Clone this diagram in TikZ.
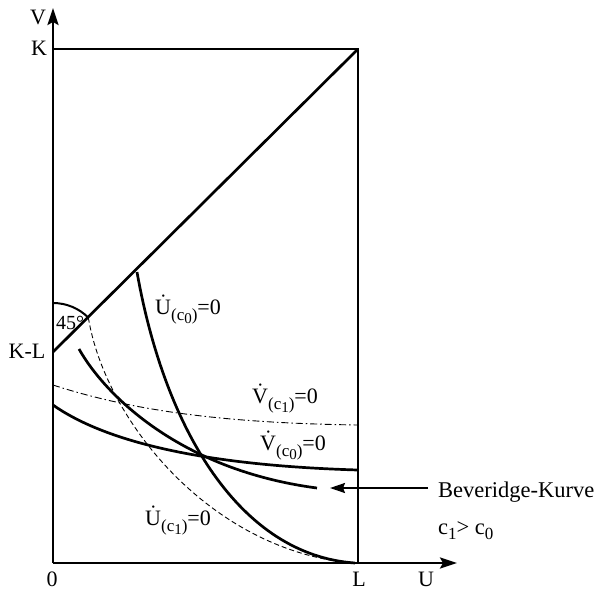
\documentclass[tikz,border=0pt]{standalone}
\usepackage{fontspec}
\setmainfont{Liberation Serif}
\usetikzlibrary{arrows.meta}
\newcommand\dotlet[1]{#1\symbol{"0307}}
\newcommand\sbs[1]{\raisebox{-6.5pt}{\fontsize{17}{17}\selectfont #1}}
\newcommand\ssb[1]{\raisebox{-3pt}{\fontsize{15}{15}\selectfont #1}}
\begin{document}
\begin{tikzpicture}[x=1pt,y=-1pt,
  axisline/.style={line width=2.4pt},
  frameline/.style={line width=2pt},
  curve/.style={line width=2.7pt},
  dashc/.style={line width=0.9pt,dash pattern=on 5pt off 3pt},
  dashdotc/.style={line width=0.9pt,dash pattern=on 7pt off 3pt on 1.5pt off 3pt},
  lab/.style={font=\fontsize{22}{22}\selectfont,inner sep=0pt,anchor=base west},
  axlab/.style={font=\fontsize{22}{22}\selectfont,inner sep=0pt},
  bigtip/.style={-{Stealth[length=17pt,width=11pt,inset=3pt]}}]
\useasboundingbox (0,0) rectangle (602,590);
% key points
\coordinate (O) at (53,563);
\coordinate (Vtip) at (53,8);
\coordinate (Utip) at (457,563);
\coordinate (Ktop) at (53,49);
\coordinate (KR) at (358,49);
\coordinate (Lb) at (358,563);
\coordinate (KL) at (53,352);
% axes and frame
\draw[axisline,bigtip] (O) -- (Vtip);
\draw[axisline,bigtip] (O) -- (Utip);
\draw[frameline] (Ktop) -- (KR) -- (Lb);
\draw[curve] (KL) -- (KR);
% 45 degree arc
\draw[line width=2pt] (53,303) .. controls (66.26,303) and (78.98,308.26) .. (88.36,317.64);
% U(c1)=0 dashed
\draw[dashc] (88.36,317.64) .. controls (105,420) and (210,550) .. (352,563);
% V(c1)=0 dash dot
\draw[dashdotc] (53,385) .. controls (130,410) and (220,423) .. (358,425);
% U(c0)=0
\draw[curve] (137,272) .. controls (165,430) and (240,555) .. (355,563);
% V(c0)=0
\draw[curve] (53,405) .. controls (100,438) and (190,465) .. (358,470);
% Beveridge curve
\draw[curve] (79,349) .. controls (105,395) and (180,470) .. (317,488);
% labels
\node[axlab] (lV) at (38,17) {V};
\node[axlab] (lK) at (39,48) {K};
\node[axlab] (lKL) at (27,351) {K-L};
\node[axlab] (l0) at (52,579) {0};
\node[axlab] (lL) at (359,579) {L};
\node[axlab] (lU) at (426,579) {U};
\node[lab,font=\fontsize{20}{20}\selectfont] (l45) at (56,329) {45°};
\node[lab] (uc0) at (155,314) {\dotlet{U}\sbs{(c\ssb{0})}=0};
\node[lab] (vc1) at (252,403) {\dotlet{V}\sbs{(c\ssb{1})}=0};
\node[lab] (vc0) at (260,450) {\dotlet{V}\sbs{(c\ssb{0})}=0};
\node[lab] (uc1) at (145,525) {\dotlet{U}\sbs{(c\ssb{1})}=0};
\node[lab,font=\fontsize{22.5}{22.5}\selectfont] (bev) at (438,497) {Beveridge-Kurve};
\node[lab,font=\fontsize{22.5}{22.5}\selectfont] (cc) at (438,534) {c\raisebox{-5pt}{\fontsize{17}{17}\selectfont 1}> c\raisebox{-5pt}{\fontsize{17}{17}\selectfont 0}};
% Beveridge arrow
\coordinate (bevtail) at (428,488);
\coordinate (bevtip) at (330,488);
\draw[line width=2pt,-{Stealth[length=15pt,width=10pt,inset=2pt]}] (bevtail) -- (bevtip);
\end{tikzpicture}
\end{document}
